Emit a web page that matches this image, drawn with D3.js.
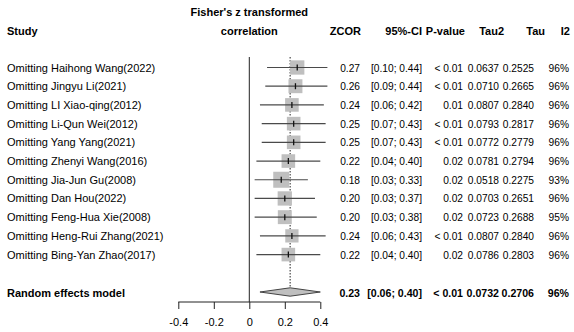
<!DOCTYPE html>
<html>
<head>
<meta charset="utf-8">
<script src="https://cdn.jsdelivr.net/npm/d3@7"></script>
<style>
  body { margin: 0; background: #fff; }
  text { font-family: "Liberation Sans", Arial, sans-serif; font-size: 11px; fill: #000; }
  .bold { font-weight: bold; }
  .num { font-size: 10.2px; }
  .num.bold { font-size: 10.6px; }
</style>
</head>
<body>
<script>
// Leave-one-out data
const studies = [
    "Omitting Haihong Wang(2022)",
    "Omitting Jingyu Li(2021)",
    "Omitting LI Xiao-qing(2012)",
    "Omitting Li-Qun Wei(2012)",
    "Omitting Yang Yang(2021)",
    "Omitting Zhenyi Wang(2016)",
    "Omitting Jia-Jun Gu(2008)",
    "Omitting Dan Hou(2022)",
    "Omitting Feng-Hua Xie(2008)",
    "Omitting Heng-Rui Zhang(2021)",
    "Omitting Bing-Yan Zhao(2017)"
];
const zcor = [0.27, 0.26, 0.24, 0.25, 0.25, 0.22, 0.18, 0.20, 0.20, 0.24, 0.22];
const ciLower = [0.10, 0.09, 0.06, 0.07, 0.07, 0.04, 0.03, 0.03, 0.03, 0.06, 0.04];
const ciUpper = [0.44, 0.44, 0.42, 0.43, 0.43, 0.40, 0.33, 0.37, 0.38, 0.43, 0.40];
const pValues = ["< 0.01", "< 0.01", "0.01", "< 0.01", "< 0.01", "0.02", "0.02", "0.02", "0.02", "< 0.01", "0.02"];
const tau2 = ["0.0637", "0.0710", "0.0807", "0.0793", "0.0772", "0.0781", "0.0518", "0.0703", "0.0723", "0.0807", "0.0786"];
const tau = ["0.2525", "0.2665", "0.2840", "0.2817", "0.2779", "0.2794", "0.2275", "0.2651", "0.2688", "0.2840", "0.2803"];
const i2 = ["96%", "96%", "96%", "96%", "96%", "96%", "93%", "96%", "95%", "96%", "96%"];

const pooledLabel = "Random effects model";
const pooled = { est: 0.23, lo: 0.06, hi: 0.40, p: "< 0.01", tau2: "0.0732", tau: "0.2706", i2: "96%" };

const xTicks = [-0.4, -0.2, 0, 0.2, 0.4];

// Layout
const width = 574, height = 332;
const svg = d3.select("body").append("svg").attr("width", width).attr("height", height);

const x = d3.scaleLinear().domain([-0.4, 0.4]).range([178.3, 320.3]);
const y = d3.scaleLinear().domain([0, 12]).range([67.5, 292]);
const axisY = 302;

// square side scales with inverse CI width (sqrt of weight)
const side = d3.scaleLinear().domain([1 / 0.34, 1 / 0.30]).range([14.3, 16]);

// Headers
svg.append("text").attr("class", "bold").attr("x", 7).attr("y", 35).text("Study");
svg.append("text").attr("class", "bold").attr("x", x(0)).attr("y", 16)
    .attr("text-anchor", "middle").text("Fisher's z transformed");
svg.append("text").attr("class", "bold").attr("x", x(0)).attr("y", 35)
    .attr("text-anchor", "middle").text("correlation");

const headers = [
    { t: "ZCOR", x: 361 },
    { t: "95%-CI", x: 422 },
    { t: "P-value", x: 465 },
    { t: "Tau2", x: 504 },
    { t: "Tau", x: 545 },
    { t: "I2", x: 570 }
];
svg.append("g").selectAll("text").data(headers).join("text")
    .attr("class", "bold").attr("x", d => d.x).attr("y", 35)
    .attr("text-anchor", "end").text(d => d.t);

// Reference lines
svg.append("line").attr("x1", x(0)).attr("x2", x(0)).attr("y1", 57).attr("y2", axisY)
    .attr("stroke", "#222").attr("stroke-width", 1);
svg.append("line").attr("x1", x(pooled.est)).attr("x2", x(pooled.est))
    .attr("y1", 57).attr("y2", y(12) - 4)
    .attr("stroke", "#222").attr("stroke-width", 1).attr("stroke-dasharray", "1.5,1.5");

// Study rows
const rows = studies.map((s, i) => ({
    s, i, est: zcor[i], lo: ciLower[i], hi: ciUpper[i],
    p: pValues[i], tau2: tau2[i], tau: tau[i], i2: i2[i]
}));

const g = svg.append("g");
g.selectAll("rect").data(rows).join("rect")
    .attr("x", d => x(d.est) - side(1 / (d.hi - d.lo)) / 2)
    .attr("y", d => y(d.i) - side(1 / (d.hi - d.lo)) / 2)
    .attr("width", d => side(1 / (d.hi - d.lo)))
    .attr("height", d => side(1 / (d.hi - d.lo)))
    .attr("fill", "#bfbfbf");
g.selectAll("line.ci").data(rows).join("line").attr("class", "ci")
    .attr("x1", d => x(d.lo)).attr("x2", d => x(d.hi))
    .attr("y1", d => y(d.i)).attr("y2", d => y(d.i))
    .attr("stroke", "#4a4a4a").attr("stroke-width", 1.2);
g.selectAll("line.est").data(rows).join("line").attr("class", "est")
    .attr("x1", d => x(d.est)).attr("x2", d => x(d.est))
    .attr("y1", d => y(d.i) - 3).attr("y2", d => y(d.i) + 3)
    .attr("stroke", "#111").attr("stroke-width", 1.3);

// Text columns
const cols = [
    { key: d => d.s, x: 7, anchor: "start", cls: "" },
    { key: d => d.est.toFixed(2), x: 360, anchor: "end", cls: "num" },
    { key: d => `[${d.lo.toFixed(2)}; ${d.hi.toFixed(2)}]`, x: 422, anchor: "end", cls: "num" },
    { key: d => d.p, x: 463, anchor: "end", cls: "num" },
    { key: d => d.tau2, x: 499, anchor: "end", cls: "num" },
    { key: d => d.tau, x: 534, anchor: "end", cls: "num" },
    { key: d => d.i2, x: 569, anchor: "end", cls: "num" }
];
cols.forEach(c => {
    svg.append("g").selectAll("text").data(rows).join("text")
        .attr("class", c.cls)
        .attr("x", c.x).attr("y", d => y(d.i) + 4)
        .attr("text-anchor", c.anchor).text(c.key);
});

// Pooled row
const pr = Object.assign({ s: pooledLabel, i: 12 }, pooled);
cols.forEach(c => {
    svg.append("text").attr("class", "bold " + c.cls)
        .attr("x", c.x).attr("y", y(12) + 5)
        .attr("text-anchor", c.anchor).text(c.key(pr));
});
svg.append("path")
    .attr("d", `M${x(pr.lo)},${y(12)} L${x(pr.est)},${y(12) - 4.2} L${x(pr.hi)},${y(12)} L${x(pr.est)},${y(12) + 4.2} Z`)
    .attr("fill", "#bfbfbf").attr("stroke", "#444").attr("stroke-width", 1);

// Axis
const axis = svg.append("g").attr("transform", `translate(0,${axisY})`)
    .call(d3.axisBottom(x).tickValues(xTicks).tickSize(7).tickFormat(d => d === 0 ? "0" : d.toFixed(1)));
axis.select(".domain").attr("d", `M${x(-0.4)},0H${x(0.4)}`).attr("stroke", "#222");
axis.selectAll(".tick line").attr("stroke", "#222");
axis.selectAll(".tick text").attr("dy", 0).attr("y", 24).style("font-size", "11px")
    .style("font-family", "Liberation Sans, Arial, sans-serif").attr("fill", "#000");
</script>
</body>
</html>
